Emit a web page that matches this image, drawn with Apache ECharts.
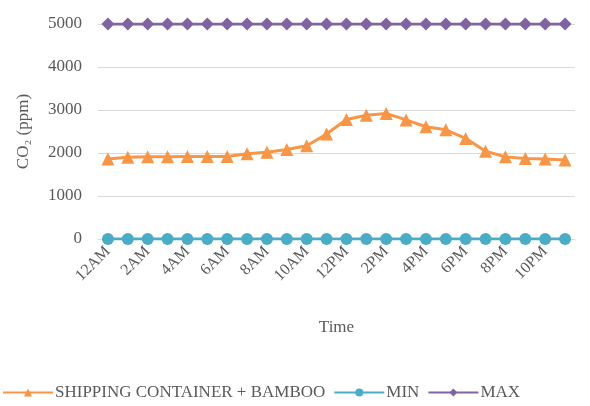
<!DOCTYPE html>
<html>
<head>
<meta charset="utf-8">
<script src="https://cdn.jsdelivr.net/npm/echarts@6/dist/echarts.min.js"></script>
<style>
  html, body { margin: 0; padding: 0; background: #fff; }
  #main { width: 590px; height: 406px; }
</style>
</head>
<body>
<div id="main"></div>
<script>
// hours of the day
var hours = ['12AM','1AM','2AM','3AM','4AM','5AM','6AM','7AM','8AM','9AM','10AM','11AM',
             '12PM','1PM','2PM','3PM','4PM','5PM','6PM','7PM','8PM','9PM','10PM','11PM'];
// CO2 readings (ppm)
var bamboo = [1860, 1900, 1910, 1910, 1920, 1920, 1920, 1980, 2020, 2080, 2170, 2440,
              2780, 2880, 2920, 2770, 2610, 2540, 2340, 2040, 1910, 1870, 1860, 1840];
var minVals = [0,0,0,0,0,0,0,0,0,0,0,0,0,0,0,0,0,0,0,0,0,0,0,0];
var maxVals = [5000,5000,5000,5000,5000,5000,5000,5000,5000,5000,5000,5000,
               5000,5000,5000,5000,5000,5000,5000,5000,5000,5000,5000,5000];

var font = 'Liberation Serif, Times New Roman, serif';
var grey = '#595959';

var chart = echarts.init(document.getElementById('main'));
chart.setOption({
    animation: false,
    textStyle: {fontFamily: font},
    grid: {left: 98, right: 15, top: 24, bottom: 167},
    legend: {
        bottom: 0,
        left: 0,
        padding: [5, 2],
        itemGap: 8,
        itemWidth: 50,
        itemHeight: 10,
        textStyle: {fontFamily: font, fontSize: 17, color: grey, padding: [0, 0, 0, -3]},
        data: ['SHIPPING CONTAINER + BAMBOO', 'MIN', 'MAX']
    },
    xAxis: {
        type: 'category',
        data: hours,
        boundaryGap: true,
        name: 'Time',
        nameLocation: 'middle',
        nameGap: 80,
        nameTextStyle: {fontFamily: font, fontSize: 17, color: grey},
        axisLine: {lineStyle: {color: '#d9d9d9'}},
        axisTick: {show: false},
        axisLabel: {
            interval: 1,
            rotate: 45,
            fontFamily: font,
            fontSize: 16,
            color: grey,
            margin: 10
        }
    },
    yAxis: {
        type: 'value',
        min: 0,
        max: 5000,
        interval: 1000,
        name: 'CO\u2082 (ppm)',
        nameLocation: 'middle',
        nameRotate: 90,
        nameGap: 66,
        nameTextStyle: {fontFamily: font, fontSize: 17, color: grey},
        axisLine: {show: false},
        axisTick: {show: false},
        axisLabel: {
            fontFamily: font,
            fontSize: 17,
            color: grey,
            margin: 16,
            formatter: function (v) { return String(v); }
        },
        splitLine: {lineStyle: {color: '#d9d9d9', width: 1}}
    },
    series: [
        {
            name: 'SHIPPING CONTAINER + BAMBOO',
            type: 'line',
            data: bamboo,
            symbol: 'triangle',
            symbolSize: 13,
            itemStyle: {color: '#F79646'},
            lineStyle: {width: 3, color: '#F79646'}
        },
        {
            name: 'MIN',
            type: 'line',
            data: minVals,
            symbol: 'circle',
            symbolSize: 12,
            itemStyle: {color: '#4BACC6'},
            lineStyle: {width: 3, color: '#4BACC6'}
        },
        {
            name: 'MAX',
            type: 'line',
            data: maxVals,
            symbol: 'diamond',
            symbolSize: 13,
            itemStyle: {color: '#8064A2'},
            lineStyle: {width: 3, color: '#8064A2'}
        }
    ]
});
</script>
</body>
</html>
